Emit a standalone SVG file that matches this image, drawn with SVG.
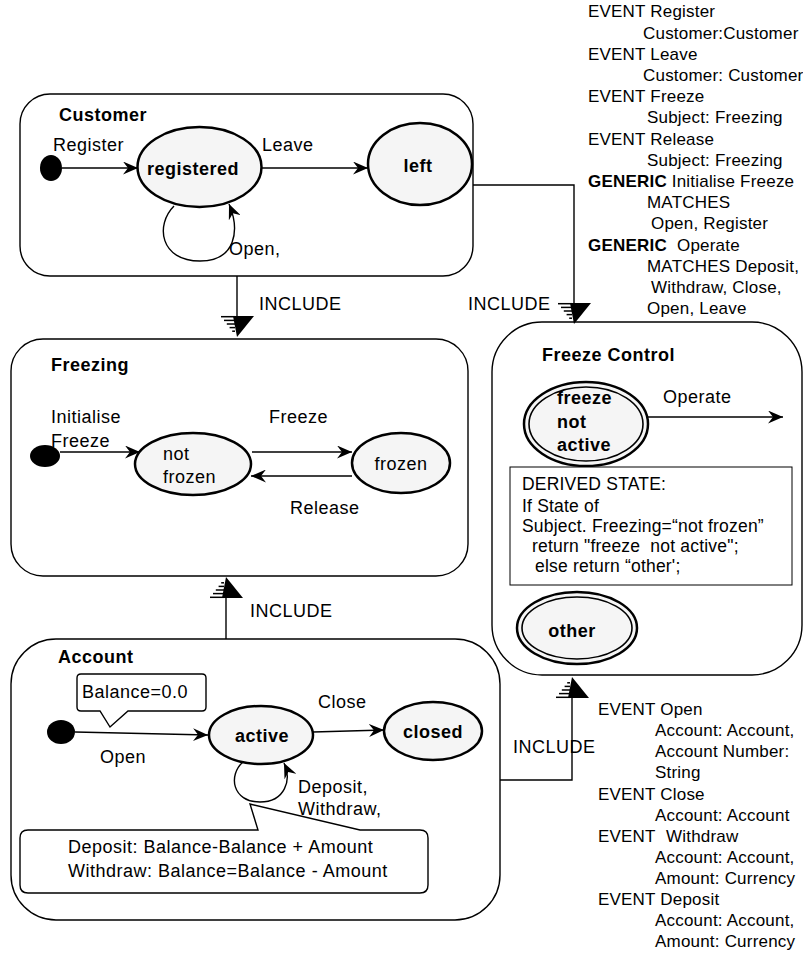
<svg xmlns="http://www.w3.org/2000/svg" width="803" height="953" viewBox="0 0 803 953">
  <style>
    text { font-family: "Liberation Sans", Arial, sans-serif; fill: #000; }
    .lbl { font-size: 18px; letter-spacing: 0.5px; }
    .b { font-weight: bold; }
    .ev { font-size: 17px; letter-spacing: 0.2px; }
    .dv { font-size: 17.5px; letter-spacing: 0.2px; }
    .box { fill: #fff; stroke: #000; stroke-width: 1.4; }
    .st { fill: #f5f5f5; stroke: #000; stroke-width: 2.5; }
    .st2 { fill: none; stroke: #000; stroke-width: 1.6; }
    .tr { fill: none; stroke: #000; stroke-width: 1.4; marker-end: url(#arr); }
    .ln { fill: none; stroke: #000; stroke-width: 1.4; }
    .dot { fill: #000; }
  </style>
  <defs>
    <marker id="arr" markerUnits="userSpaceOnUse" markerWidth="17" markerHeight="13" refX="15" refY="6.5" orient="auto" viewBox="0 0 17 13">
      <path d="M0,0 L15,6.5 L0,13 L5,6.5 z" fill="#000"/>
    </marker>
    <!-- include arrowhead: apex at origin, pointing down, left part hatched -->
    <g id="inc">
      <polygon points="-4,-21 17,-21 0,0" fill="#000"/>
      <g stroke="#000" stroke-width="1.5">
        <line x1="-16" y1="-20.3" x2="-2" y2="-20.3"/>
        <line x1="-13" y1="-16.6" x2="-2" y2="-16.6"/>
        <line x1="-10.2" y1="-13" x2="-2" y2="-13"/>
        <line x1="-7.4" y1="-9.4" x2="-2" y2="-9.4"/>
        <line x1="-4.8" y1="-5.8" x2="-2" y2="-5.8"/>
      </g>
    </g>
  </defs>

  <!-- event declarations -->
  <g id="events-top">
    <text class="ev" x="588" y="17.4">EVENT Register</text>
    <text class="ev" x="643" y="38.6">Customer:Customer</text>
    <text class="ev" x="588" y="59.8">EVENT Leave</text>
    <text class="ev" x="643" y="81">Customer: Customer</text>
    <text class="ev" x="588" y="102.2">EVENT Freeze</text>
    <text class="ev" x="647" y="123.4">Subject: Freezing</text>
    <text class="ev" x="588" y="144.6">EVENT Release</text>
    <text class="ev" x="647" y="165.8">Subject: Freezing</text>
    <text class="ev" x="588" y="187"><tspan class="b">GENERIC</tspan> Initialise Freeze</text>
    <text class="ev" x="647" y="208.2">MATCHES</text>
    <text class="ev" x="651" y="229.4">Open, Register</text>
    <text class="ev" x="588" y="250.6"><tspan class="b">GENERIC</tspan><tspan x="677">Operate</tspan></text>
    <text class="ev" x="647" y="271.8">MATCHES Deposit,</text>
    <text class="ev" x="651" y="293">Withdraw, Close,</text>
    <text class="ev" x="647" y="314.2">Open, Leave</text>
  </g>
  <g id="events-bottom">
    <text class="ev" x="598" y="715">EVENT Open</text>
    <text class="ev" x="655" y="736">Account: Account,</text>
    <text class="ev" x="655" y="757">Account Number:</text>
    <text class="ev" x="655" y="778">String</text>
    <text class="ev" x="598" y="800">EVENT Close</text>
    <text class="ev" x="655" y="821">Account: Account</text>
    <text class="ev" x="598" y="842">EVENT<tspan x="666">Withdraw</tspan></text>
    <text class="ev" x="655" y="863">Account: Account,</text>
    <text class="ev" x="655" y="884">Amount: Currency</text>
    <text class="ev" x="598" y="905">EVENT Deposit</text>
    <text class="ev" x="655" y="926">Account: Account,</text>
    <text class="ev" x="655" y="947">Amount: Currency</text>
  </g>

  <!-- Customer -->
  <g id="customer">
    <rect class="box" x="20" y="94" width="453" height="182" rx="30"/>
    <text class="lbl b" x="59" y="121">Customer</text>
    <ellipse class="dot" cx="51" cy="168" rx="11" ry="13"/>
    <ellipse class="st" cx="199.5" cy="167" rx="62" ry="40"/>
    <text class="lbl b" x="193" y="175" text-anchor="middle">registered</text>
    <ellipse class="st" cx="420" cy="164" rx="52" ry="41"/>
    <text class="lbl b" x="418" y="172" text-anchor="middle">left</text>
    <text class="lbl" x="53" y="151">Register</text>
    <text class="lbl" x="262" y="151">Leave</text>
    <text class="lbl" x="229" y="255">Open,</text>
  </g>

  <!-- Freezing -->
  <g id="freezing">
    <rect class="box" x="11" y="339" width="457" height="237" rx="32"/>
    <text class="lbl b" x="51" y="371">Freezing</text>
    <text class="lbl" x="51" y="423">Initialise</text>
    <text class="lbl" x="51" y="447">Freeze</text>
    <ellipse class="dot" cx="45" cy="456" rx="15" ry="11"/>
    <ellipse class="st" cx="193" cy="464" rx="58" ry="31"/>
    <text class="lbl" x="163" y="460">not</text>
    <text class="lbl" x="163" y="483">frozen</text>
    <ellipse class="st" cx="401" cy="463" rx="49" ry="30"/>
    <text class="lbl" x="401" y="470" text-anchor="middle">frozen</text>
    <text class="lbl" x="269" y="423">Freeze</text>
    <text class="lbl" x="290" y="514">Release</text>
  </g>

  <!-- Freeze Control -->
  <g id="freeze-control">
    <rect class="box" x="492" y="322" width="310" height="353" rx="50"/>
    <text class="lbl b" x="542" y="361">Freeze Control</text>
    <ellipse class="st" cx="586" cy="424" rx="62" ry="42"/>
    <ellipse class="st2" cx="586" cy="424" rx="57" ry="37"/>
    <text class="lbl b" x="557" y="404">freeze</text>
    <text class="lbl b" x="557" y="428">not</text>
    <text class="lbl b" x="557" y="451">active</text>
    <text class="lbl" x="663" y="403">Operate</text>
    <rect x="510" y="467" width="282" height="118" fill="#fff" stroke="#000" stroke-width="1"/>
    <text class="dv" x="522" y="490">DERIVED STATE:</text>
    <text class="dv" x="522" y="512">If State of</text>
    <text class="dv" x="522" y="532">Subject. Freezing=“not frozen”</text>
    <text class="dv" x="532" y="552" xml:space="preserve">return "freeze  not active";</text>
    <text class="dv" x="535" y="572">else return “other';</text>
    <ellipse class="st" cx="577" cy="628" rx="60" ry="36"/>
    <ellipse class="st2" cx="577" cy="628" rx="55" ry="31"/>
    <text class="lbl b" x="572" y="637" text-anchor="middle">other</text>
  </g>

  <!-- Account -->
  <g id="account">
    <rect class="box" x="11" y="639" width="489" height="281" rx="45"/>
    <text class="lbl b" x="58" y="663">Account</text>
    <path class="box" d="M81,674 H202 Q206,674 206,678 V707 Q206,711 202,711 H128 L110,727 L100,711 H81 Q77,711 77,707 V678 Q77,674 81,674 Z"/>
    <text class="lbl" x="82" y="698">Balance=0.0</text>
    <ellipse class="dot" cx="61" cy="732" rx="14" ry="12"/>
    <text class="lbl" x="100" y="763">Open</text>
    <ellipse class="st" cx="261" cy="735" rx="52" ry="29"/>
    <text class="lbl b" x="262" y="742" text-anchor="middle">active</text>
    <ellipse class="st" cx="433" cy="731" rx="49" ry="29"/>
    <text class="lbl b" x="433" y="738" text-anchor="middle">closed</text>
    <text class="lbl" x="318" y="708">Close</text>
    <text class="lbl" x="298" y="793">Deposit,</text>
    <text class="lbl" x="298" y="815">Withdraw,</text>
    <path class="box" d="M28,830 H258 L250,804 L360,830 H420 Q428,830 428,838 V885 Q428,893 420,893 H28 Q20,893 20,885 V838 Q20,830 28,830 Z"/>
    <text class="lbl" x="68" y="853">Deposit: Balance-Balance + Amount</text>
    <text class="lbl" x="68" y="877">Withdraw: Balance=Balance - Amount</text>
  </g>

  <!-- transitions and include links -->
  <g id="connectors">
    <path class="tr" d="M62,168 H138"/>
    <path class="tr" d="M262,168 H368"/>
    <path class="tr" d="M174,206 C155,225 160,261 200,261 C236,261 240,230 229,204"/>
    <path class="tr" d="M60,452 H140"/>
    <path class="tr" d="M252,452 H352"/>
    <path class="tr" d="M352,476 H251"/>
    <path class="tr" d="M648,417 H783"/>
    <path class="tr" d="M75,732 L208,735"/>
    <path class="tr" d="M313,732 L384,730"/>
    <path class="tr" d="M243,762 C228,775 232,802 260,802 C285,802 292,780 284,763"/>

    <path class="ln" d="M237,276 V317"/>
    <use href="#inc" transform="translate(237,337)"/>
    <text class="lbl" x="259" y="310">INCLUDE</text>

    <path class="ln" d="M473,185 H574 V304"/>
    <use href="#inc" transform="translate(574,324)"/>
    <text class="lbl" x="468" y="310">INCLUDE</text>

    <path class="ln" d="M226,639 V594"/>
    <use href="#inc" transform="translate(226,577) scale(1,-1)"/>
    <text class="lbl" x="250" y="617">INCLUDE</text>

    <path class="ln" d="M500,780 H572 V695"/>
    <use href="#inc" transform="translate(572,677) scale(1,-1)"/>
    <text class="lbl" x="513" y="753">INCLUDE</text>
  </g>
</svg>
